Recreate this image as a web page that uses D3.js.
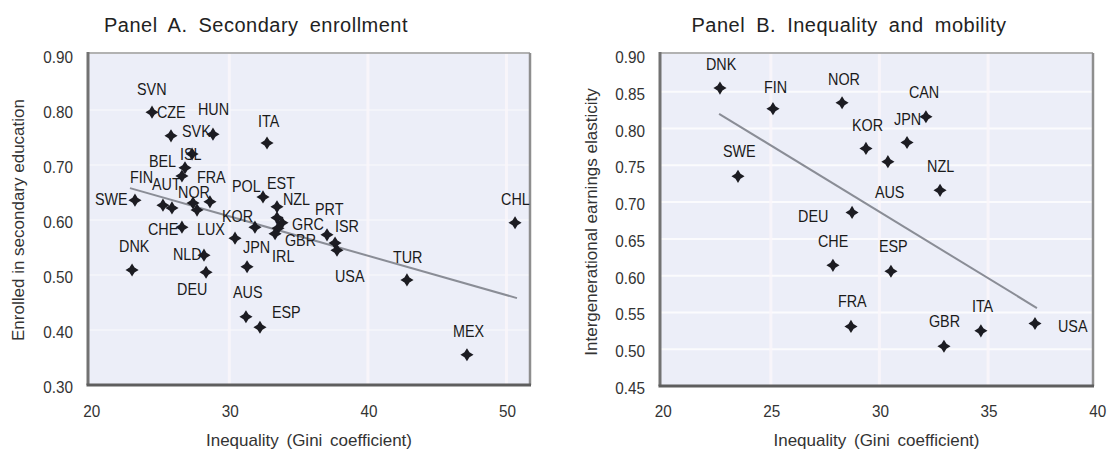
<!DOCTYPE html>
<html><head><meta charset="utf-8">
<script src="https://cdn.jsdelivr.net/npm/d3@7"></script>
<style>
body{margin:0;background:#fff}
text{font-family:"Liberation Sans",Arial,sans-serif;fill:#222}
</style>
</head><body><svg id="c" width="1107" height="450"></svg>
<script>
// ---------- Panel A data ----------
const countriesA = ["SVN","CZE","HUN","SVK","ISL","BEL","ITA","SWE","FIN","AUT","NOR","","FRA","CHE","LUX","KOR","POL","EST","NZL","GRC","GBR","IRL","PRT","ISR","USA","JPN","NLD","DEU","DNK","AUS","ESP","TUR","MEX","CHL"];
const giniA   = [24.42,25.79,28.82,27.31,26.80,26.58,32.72,23.19,25.21,25.86,27.38,27.67,28.60,26.58,30.41,31.85,32.43,33.44,33.44,33.80,33.51,33.30,37.05,37.63,37.77,31.28,28.17,28.32,22.98,31.20,32.21,42.82,47.15,50.62];
const enrolA  = [0.796,0.753,0.756,0.720,0.695,0.680,0.740,0.636,0.627,0.622,0.631,0.618,0.633,0.587,0.567,0.587,0.642,0.624,0.604,0.595,0.585,0.575,0.573,0.558,0.545,0.515,0.536,0.505,0.509,0.424,0.405,0.491,0.355,0.595];
const trendXA = [22.83, 50.76];
const trendYA = [0.658, 0.458];
const xTicksA = [20, 30, 40, 50];
const yTicksA = [0.30, 0.40, 0.50, 0.60, 0.70, 0.80, 0.90];

// ---------- Panel B data ----------
const countriesB = ["DNK","FIN","SWE","NOR","CAN","JPN","KOR","AUS","NZL","DEU","CHE","ESP","FRA","GBR","ITA","USA"];
const giniB   = [22.66,25.10,23.49,28.28,32.14,31.27,29.38,30.39,32.79,28.74,27.86,30.53,28.69,32.97,34.67,37.16];
const elastB  = [0.855,0.827,0.735,0.835,0.816,0.781,0.773,0.755,0.716,0.686,0.614,0.606,0.531,0.504,0.525,0.535];
const trendXB = [22.62, 37.25];
const trendYB = [0.820, 0.556];
const xTicksB = [20, 25, 30, 35, 40];
const yTicksB = [0.45, 0.50, 0.55, 0.60, 0.65, 0.70, 0.75, 0.80, 0.85, 0.90];

// ---------- label placement (layout, px offsets from marker) ----------
const labelOffA = {SVN:[-15,-17],CZE:[-14,-18],HUN:[-15,-19],SVK:[-10,-17],ISL:[-5,-8],BEL:[-33,-9],ITA:[-9,-16],SWE:[-40,5],FIN:[-33,-22],AUT:[-20,-18],NOR:[-15,-5],FRA:[-13,-19],CHE:[-34,8],LUX:[-38,-3],KOR:[-33,-5],POL:[-31,-5],EST:[-10,-18],NZL:[6,-13],GRC:[10,7],GBR:[7,18],IRL:[-3,28],PRT:[-12,-20],ISR:[0,-11],USA:[-2,32],JPN:[-4,-14],NLD:[-31,5],DEU:[-29,23],DNK:[-13,-18],AUS:[-13,-19],ESP:[12,-9],TUR:[-14,-17],MEX:[-14,-18],CHL:[-14,-18]};
const labelOffB = {DNK:[-14,-18],FIN:[-9,-16],SWE:[-15,-19],NOR:[-14,-18],CAN:[-17,-19],JPN:[-13,-18],KOR:[-14,-17],AUS:[-13,36],NZL:[-13,-18],DEU:[-54,10],CHE:[-15,-18],ESP:[-12,-19],FRA:[-13,-19],GBR:[-15,-19],ITA:[-9,-19],USA:[23,9]};

const svg = d3.select("#c");
const defs = svg.append("defs");
defs.append("filter").attr("id","soft").append("feGaussianBlur").attr("stdDeviation",0.6);

const star4 = {draw(ctx, size){
  const r = Math.sqrt(size)*0.6, w = r*0.38;
  ctx.moveTo(0,-r); ctx.lineTo(w,-w); ctx.lineTo(r,0); ctx.lineTo(w,w);
  ctx.lineTo(0,r); ctx.lineTo(-w,w); ctx.lineTo(-r,0); ctx.lineTo(-w,-w); ctx.closePath();
}};
const sym = d3.symbol().type(star4).size(120)();
const SX = 0.87; // condensed text

function panel(cfg){
  const x = d3.scaleLinear().domain(cfg.xDom).range([cfg.left, cfg.right]);
  const y = d3.scaleLinear().domain(cfg.yDom).range([cfg.bottom, cfg.top]);
  const g = svg.append("g");
  g.append("rect").attr("x",cfg.left).attr("y",cfg.top)
    .attr("width",cfg.right-cfg.left).attr("height",cfg.bottom-cfg.top).attr("fill","#eceef8");
  // grid
  g.selectAll(".hg").data(cfg.yTicks.slice(1,-1)).join("line")
    .attr("x1",cfg.left).attr("x2",cfg.right).attr("y1",d=>y(d)).attr("y2",d=>y(d))
    .attr("stroke","#fbfbfd").attr("stroke-width",cfg.hgw).attr("opacity",cfg.hgo);
  g.selectAll(".vg").data(cfg.xTicks.filter(d=>x(d)>cfg.left+5 && x(d)<cfg.right-5)).join("line")
    .attr("x1",d=>x(d)).attr("x2",d=>x(d)).attr("y1",cfg.top).attr("y2",cfg.bottom)
    .attr("stroke","#fbf7fb").attr("stroke-width",3).attr("opacity",0.8);
  // frame
  g.append("line").attr("x1",cfg.left).attr("x2",cfg.right).attr("y1",cfg.top).attr("y2",cfg.top).attr("stroke","#b2b2b2").attr("stroke-width",2);
  g.append("line").attr("x1",cfg.right).attr("x2",cfg.right).attr("y1",cfg.top).attr("y2",cfg.bottom).attr("stroke","#8e8e8e").attr("stroke-width",2.5);
  g.append("line").attr("x1",cfg.left).attr("x2",cfg.left).attr("y1",cfg.top-1).attr("y2",cfg.bottom).attr("stroke","#727272").attr("stroke-width",3);
  g.append("line").attr("x1",cfg.left-1.5).attr("x2",cfg.right+1).attr("y1",cfg.bottom).attr("y2",cfg.bottom).attr("stroke","#5e5e5e").attr("stroke-width",3);
  // trend
  g.append("line").attr("x1",x(cfg.tx[0])).attr("y1",y(cfg.ty[0])).attr("x2",x(cfg.tx[1])).attr("y2",y(cfg.ty[1]))
    .attr("stroke","#8a8d96").attr("stroke-width",2);
  // ticks
  g.selectAll(".yt").data(cfg.yTicks).join("text")
    .attr("transform",d=>`translate(${cfg.left-15},${y(d)+2}) scale(0.9,1)`)
    .attr("dy","0.35em").attr("text-anchor","end")
    .attr("font-size",17).style("fill","#333").text(d=>d3.format(".2f")(d));
  g.selectAll(".xt").data(cfg.xTicks).join("text")
    .attr("transform",d=>`translate(${x(d)+1},417) scale(0.9,1)`).attr("text-anchor","middle")
    .attr("font-size",17).style("fill","#333").text(d=>d);
  // titles
  g.append("text").attr("x",cfg.titleX).attr("y",32).attr("text-anchor","middle")
    .attr("font-size",20).attr("letter-spacing",0.5).attr("word-spacing",5).style("fill","#222").text(cfg.title);
  g.append("text").attr("x",(cfg.left+cfg.right)/2).attr("y",446).attr("text-anchor","middle")
    .attr("font-size",17).attr("word-spacing",3).style("fill","#333").text("Inequality (Gini coefficient)");
  g.append("text").attr("transform",`translate(${cfg.ytX},${cfg.ytY}) rotate(-90)`).attr("text-anchor","middle")
    .attr("font-size",17).style("fill","#333").text(cfg.yTitle);
  // points
  const pts = cfg.names.map((n,i)=>({n, gx:cfg.xs[i], gy:cfg.ys[i]}));
  g.selectAll(".pt").data(pts).join("path").attr("d",sym)
    .attr("transform",d=>`translate(${x(d.gx)},${y(d.gy)})`)
    .attr("fill","#1c1c22").attr("filter","url(#soft)");
  g.selectAll(".lb").data(pts.filter(d=>d.n)).join("text")
    .attr("transform",d=>`translate(${x(d.gx)+cfg.off[d.n][0]},${y(d.gy)+cfg.off[d.n][1]}) scale(${SX},1)`)
    .attr("font-size",16.5).style("fill","#1a1a1a").text(d=>d.n);
}

panel({left:88,right:530,top:53,bottom:385,xDom:[19.8,51.7],yDom:[0.30,0.9036],
  xTicks:xTicksA,yTicks:yTicksA,tx:trendXA,ty:trendYA,names:countriesA,xs:giniA,ys:enrolA,off:labelOffA,
  title:"Panel A. Secondary enrollment",titleX:256,yTitle:"Enrolled in secondary education",ytX:24,ytY:220,hgw:1.5,hgo:0.6});
panel({left:660,right:1093,top:53,bottom:386,xDom:[19.9,39.83],yDom:[0.45,0.9027],
  xTicks:xTicksB,yTicks:yTicksB,tx:trendXB,ty:trendYB,names:countriesB,xs:giniB,ys:elastB,off:labelOffB,
  title:"Panel B. Inequality and mobility",titleX:849,yTitle:"Intergenerational earnings elasticity",ytX:597,ytY:222,hgw:2,hgo:1});
</script>
</body></html>
